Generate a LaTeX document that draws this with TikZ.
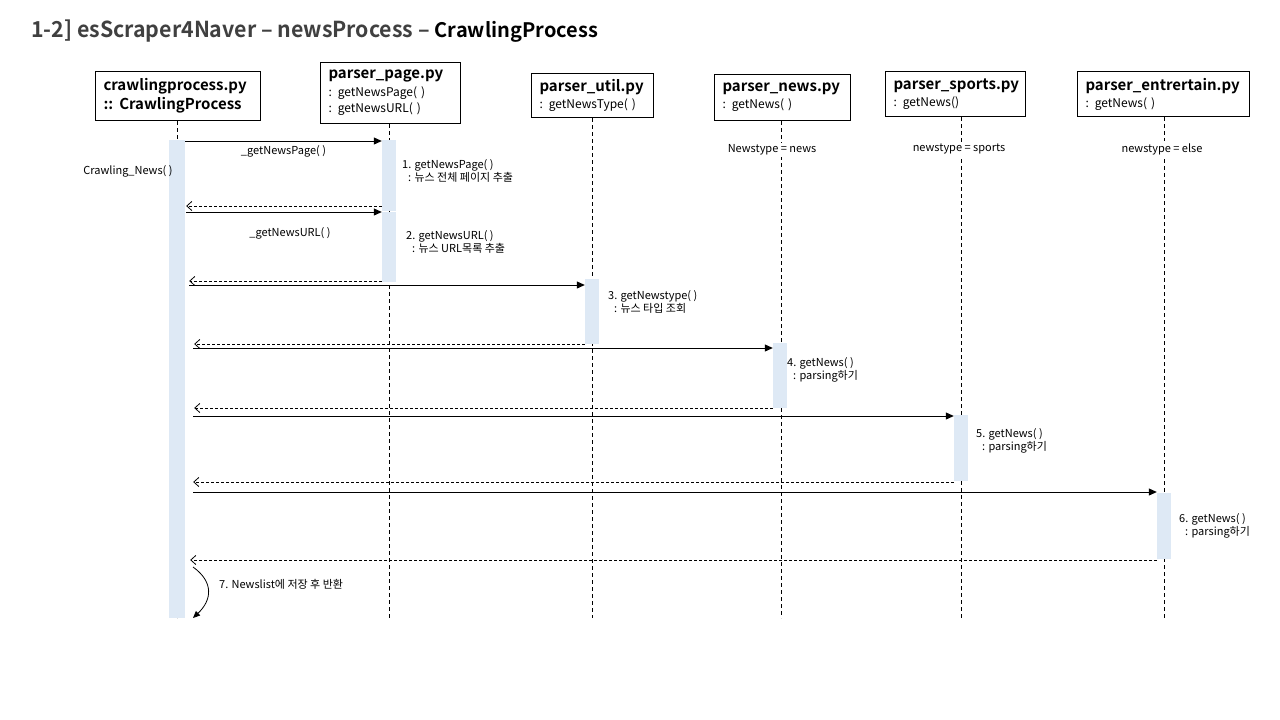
\documentclass[tikz,border=0pt]{standalone}
\usepackage{fontspec}
\setmainfont{Noto Sans CJK KR}[BoldFont = {Noto Sans CJK KR Bold}]
\newfontfamily\headfont[FakeStretch = 0.97]{Noto Sans CJK KR Bold}
\usetikzlibrary{arrows.meta}
\definecolor{barblue}{HTML}{DEE9F5}
\definecolor{headgray}{HTML}{404040}
\tikzset{
  lifebox/.style = {draw, line width = 1pt, anchor = north west, inner xsep = 8pt, inner ysep = 3pt, align = left, font = \fontsize{12}{16}\selectfont},
  lifeline/.style = {line width = 0.8pt, dash pattern = on 4pt off 3pt},
  actbar/.style = {fill = barblue, anchor = north, inner sep = 0pt},
  callmsg/.style = {line width = 1pt, -{Triangle[length = 8pt, width = 7pt]}},
  backmsg/.style = {line width = 0.8pt, dash pattern = on 3pt off 2pt, -{Straight Barb[length = 5pt, width = 9pt]}},
  note/.style = {font = \fontsize{11}{13}\selectfont, align = left, inner sep = 0pt}
}
\newcommand{\boxhead}[1]{{\fontsize{15}{16}\selectfont\bfseries #1}}
\begin{document}
\begin{tikzpicture}[x = 1pt, y = -1pt]
    \useasboundingbox (0, 0) rectangle (1280, 720);
    \node [anchor = west, inner sep = 0pt] (title) at (31, 31) {\fontsize{22}{26}\selectfont{\headfont\color{headgray}1-2] esScraper4Naver – newsProcess –} \fontsize{20}{26}\selectfont\textbf{CrawlingProcess}};
    \node [lifebox, text width = 149pt, minimum height = 49pt] (crawl) at (95, 71) {\boxhead{crawlingprocess.py}\\[3pt]\boxhead{:: CrawlingProcess}};
    \node [lifebox, text width = 124pt, minimum height = 61pt] (page) at (320, 62) {\boxhead{parser\_page.py}\\[2pt]: getNewsPage( )\\: getNewsURL( )};
    \node [lifebox, text width = 106pt, minimum height = 44pt] (util) at (531, 73) {\boxhead{parser\_util.py}\\[1pt]: getNewsType( )};
    \node [lifebox, text width = 120pt, minimum height = 46pt] (news) at (714, 74) {\boxhead{parser\_news.py}\\[1pt]: getNews( )};
    \node [lifebox, text width = 124pt, minimum height = 45pt] (sports) at (885, 71) {\boxhead{parser\_sports.py}\\[1pt]: getNews()};
    \node [lifebox, text width = 156pt, minimum height = 45pt] (ent) at (1077, 71) {\boxhead{parser\_entrertain.py}\\[1pt]: getNews( )};
    \coordinate (crawlend) at (177, 618);
    \coordinate (pageend) at (389, 618);
    \coordinate (utilend) at (592, 618);
    \coordinate (newsend) at (781, 618);
    \coordinate (sportsend) at (961, 618);
    \coordinate (entend) at (1164, 618);
    \draw [lifeline] (crawl.south -| crawlend) -- (crawlend);
    \draw [lifeline] (page.south -| pageend) -- (pageend);
    \draw [lifeline] (util.south -| utilend) -- (utilend);
    \draw [lifeline] (news.south -| newsend) -- (newsend);
    \draw [lifeline] (sports.south -| sportsend) -- (sportsend);
    \draw [lifeline] (ent.south -| entend) -- (entend);
    \node [note, fill = white, inner sep = 2pt] (newscase) at (772, 150) {Newstype = news};
    \node [note, fill = white, inner sep = 2pt] (sportscase) at (959, 149) {newstype = sports};
    \node [note, fill = white, inner sep = 2pt] (entcase) at (1162, 149) {newstype = else};
    \node [actbar, minimum width = 16pt, minimum height = 478pt] (crawlbar) at (177, 140) {};
    \node [actbar, minimum width = 14pt, minimum height = 71pt] (pagebarA) at (389, 140) {};
    \node [actbar, minimum width = 14pt, minimum height = 70pt] (pagebarB) at (389, 212) {};
    \node [actbar, minimum width = 14pt, minimum height = 65pt] (utilbar) at (592, 279) {};
    \node [actbar, minimum width = 14pt, minimum height = 65pt] (newsbar) at (780, 343) {};
    \node [actbar, minimum width = 14pt, minimum height = 66pt] (sportsbar) at (961, 415) {};
    \node [actbar, minimum width = 14pt, minimum height = 66pt] (entbar) at (1164, 493) {};
    \node [note] (crawlcall) at (128, 171) {Crawling\_News( )};
    \draw [callmsg] (crawlbar.east |- 0, 141) -- (pagebarA.west |- 0, 141) node [note, pos = 0.5, below = 4pt] {\_getNewsPage( )};
    \draw [backmsg] (pagebarA.west |- 0, 206) -- ([xshift = 1pt]crawlbar.east |- 0, 206);
    \draw [callmsg] ([xshift = 1pt]crawlbar.east |- 0, 212) -- (pagebarB.west |- 0, 212);
    \node [note] (urlcall) at (290, 233) {\_getNewsURL( )};
    \draw [backmsg] (pagebarB.west |- 0, 281) -- ([xshift = 4pt]crawlbar.east |- 0, 281);
    \draw [callmsg] ([xshift = 4pt]crawlbar.east |- 0, 285) -- (utilbar.west |- 0, 285);
    \draw [backmsg] (utilbar.west |- 0, 344) -- ([xshift = 9pt]crawlbar.east |- 0, 344);
    \draw [callmsg] ([xshift = 8pt]crawlbar.east |- 0, 348) -- (newsbar.west |- 0, 348);
    \draw [backmsg] (newsbar.west |- 0, 408) -- ([xshift = 9pt]crawlbar.east |- 0, 408);
    \draw [callmsg] ([xshift = 8pt]crawlbar.east |- 0, 416) -- (sportsbar.west |- 0, 416);
    \draw [backmsg] (sportsbar.west |- 0, 482) -- ([xshift = 8pt]crawlbar.east |- 0, 482);
    \draw [callmsg] ([xshift = 8pt]crawlbar.east |- 0, 492) -- (entbar.west |- 0, 492);
    \draw [backmsg] (entbar.west |- 0, 560) -- ([xshift = 5pt]crawlbar.east |- 0, 560);
    \node [note, anchor = north west] (step1) at (402, 159) {1. getNewsPage( )\\\hspace{6pt}: 뉴스 전체 페이지 추출};
    \node [note, anchor = north west] (step2) at (406, 230) {2. getNewsURL( )\\\hspace{6pt}: 뉴스 URL목록 추출};
    \node [note, anchor = north west] (step3) at (608, 290) {3. getNewstype( )\\\hspace{6pt}: 뉴스 타입 조회};
    \node [note, anchor = north west] (step4) at (787, 357) {4. getNews( )\\\hspace{6pt}: parsing하기};
    \node [note, anchor = north west] (step5) at (976, 428) {5. getNews( )\\\hspace{6pt}: parsing하기};
    \node [note, anchor = north west] (step6) at (1179, 513) {6. getNews( )\\\hspace{6pt}: parsing하기};
    \coordinate (selfstart) at (193, 567);
    \coordinate (selfend) at (193, 618);
    \draw [line width = 0.8pt, -{Triangle[length = 7pt, width = 6pt]}] (selfstart) .. controls (214, 582) and (212, 600) .. (selfend);
    \node [note, anchor = west] (step7) at (219, 584) {7. Newslist에 저장 후 반환};
\end{tikzpicture}
\end{document}
